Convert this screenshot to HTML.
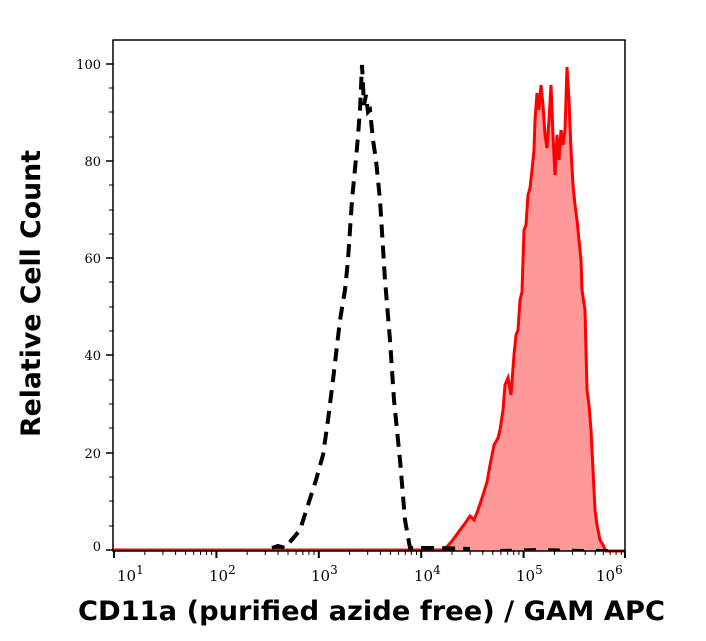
<!DOCTYPE html>
<html><head><style>body{margin:0;background:#fff}</style></head><body>
<svg width="706" height="641" xmlns="http://www.w3.org/2000/svg" style="display:block">
<rect width="706" height="641" fill="#fff"/>
<path d="M113,550 L444,550 L452,541 L460,530 L466,522 L470,516 L474,520 L478,510 L483,495 L487,482 L490,465 L492,455 L494,445 L498,438 L500,430 L503,410 L505,385 L508,378 L511,395 L514,355 L516,335 L518,330 L520,300 L522,292 L524,230 L526,225 L528,195 L530,188 L532,170 L534,150 L535,120 L537,93 L539,110 L541,85 L543,105 L545,135 L547,148 L549,120 L551,85 L553,135 L555,175 L557,135 L559,160 L561,130 L563,145 L565,130 L567,67 L569,100 L571,150 L573,185 L575,205 L577,220 L579,240 L581,260 L582,290 L585,310 L587,390 L589,405 L591,430 L593,470 L595,510 L597,525 L600,540 L603,545 L606,551 L625,551 Z" fill="#ff9999" stroke="none"/>
<path d="M113,550 L444,550 L452,541 L460,530 L466,522 L470,516 L474,520 L478,510 L483,495 L487,482 L490,465 L492,455 L494,445 L498,438 L500,430 L503,410 L505,385 L508,378 L511,395 L514,355 L516,335 L518,330 L520,300 L522,292 L524,230 L526,225 L528,195 L530,188 L532,170 L534,150 L535,120 L537,93 L539,110 L541,85 L543,105 L545,135 L547,148 L549,120 L551,85 L553,135 L555,175 L557,135 L559,160 L561,130 L563,145 L565,130 L567,67 L569,100 L571,150 L573,185 L575,205 L577,220 L579,240 L581,260 L582,290 L585,310 L587,390 L589,405 L591,430 L593,470 L595,510 L597,525 L600,540 L603,545 L606,551 L625,551" fill="none" stroke="#ff0000" stroke-width="3"/>
<path d="M272,548 L278,546 L285,548 L300,530 L308,505 L316,480 L323,455 L328,420 L333,380 L340,320 L345,290 L348,260 L352,200 L357,148 L360,110 L362,65 L364,105 L366,95 L368,112 L370,110 L373,140 L376,160 L380,200 L385,280 L390,340 L394,400 L397,430 L400,460 L405,520 L410,548 L432,548 L440,548 L470,549" fill="none" stroke="#000" stroke-width="4" stroke-dasharray="13,8"/>
<path d="M500,550 L540,549 L580,550 L610,550" fill="none" stroke="#000" stroke-width="2" stroke-dasharray="12,12"/>
<rect x="113" y="40" width="512" height="511" fill="none" stroke="#000" stroke-width="1.5"/>
<g stroke="#000" stroke-width="1.5">
<line x1="106" y1="64" x2="113" y2="64"/><line x1="106" y1="161" x2="113" y2="161"/><line x1="106" y1="258" x2="113" y2="258"/><line x1="106" y1="355" x2="113" y2="355"/><line x1="106" y1="453" x2="113" y2="453"/><line x1="106" y1="550" x2="113" y2="550"/>
</g>
<g stroke="#000" stroke-width="1">
<line x1="109" y1="88" x2="113" y2="88"/><line x1="109" y1="112" x2="113" y2="112"/><line x1="109" y1="137" x2="113" y2="137"/>
<line x1="109" y1="185" x2="113" y2="185"/><line x1="109" y1="210" x2="113" y2="210"/><line x1="109" y1="234" x2="113" y2="234"/>
<line x1="109" y1="282" x2="113" y2="282"/><line x1="109" y1="307" x2="113" y2="307"/><line x1="109" y1="331" x2="113" y2="331"/>
<line x1="109" y1="380" x2="113" y2="380"/><line x1="109" y1="404" x2="113" y2="404"/><line x1="109" y1="428" x2="113" y2="428"/>
<line x1="109" y1="477" x2="113" y2="477"/><line x1="109" y1="501" x2="113" y2="501"/><line x1="109" y1="526" x2="113" y2="526"/>
</g>
<g stroke="#000" stroke-width="2">
<line x1="114" y1="551" x2="114" y2="558"/><line x1="216.4" y1="551" x2="216.4" y2="558"/><line x1="318.8" y1="551" x2="318.8" y2="558"/><line x1="421.2" y1="551" x2="421.2" y2="558"/><line x1="523.6" y1="551" x2="523.6" y2="558"/><line x1="625" y1="551" x2="625" y2="558"/>
</g>
<path stroke="#000" stroke-width="1" fill="none" d="M144.8,551v4M162.9,551v4M175.6,551v4M185.6,551v4M193.7,551v4M200.5,551v4M206.5,551v4M211.7,551v4
M247.2,551v4M265.3,551v4M278,551v4M288,551v4M296.1,551v4M302.9,551v4M308.9,551v4M314.1,551v4
M349.6,551v4M367.7,551v4M380.4,551v4M390.4,551v4M398.5,551v4M405.3,551v4M411.3,551v4M416.5,551v4
M452,551v4M470.1,551v4M482.8,551v4M492.8,551v4M500.9,551v4M507.7,551v4M513.7,551v4M518.9,551v4
M554.4,551v4M572.5,551v4M585.2,551v4M595.2,551v4M603.3,551v4M610.1,551v4M616.1,551v4M621.3,551v4"/>
<g font-family="DejaVu Serif, Liberation Serif, serif" font-size="13" fill="#000" text-anchor="end">
<text x="101" y="69">100</text><text x="101" y="166">80</text><text x="101" y="263">60</text><text x="101" y="360">40</text><text x="101" y="458">20</text><text x="101" y="551">0</text>
</g>
<g font-family="DejaVu Serif, Liberation Serif, serif" font-size="15" fill="#000">
<text x="117" y="581">10<tspan font-size="12" dy="-7">1</tspan></text>
<text x="209" y="581">10<tspan font-size="12" dy="-7">2</tspan></text>
<text x="311" y="581">10<tspan font-size="12" dy="-7">3</tspan></text>
<text x="414" y="581">10<tspan font-size="12" dy="-7">4</tspan></text>
<text x="516" y="581">10<tspan font-size="12" dy="-7">5</tspan></text>
<text x="596" y="581">10<tspan font-size="12" dy="-7">6</tspan></text>
</g>
<text x="78" y="620" font-family="DejaVu Sans, sans-serif" font-weight="bold" font-size="27" textLength="587" lengthAdjust="spacingAndGlyphs">CD11a (purified azide free) / GAM APC</text>
<text transform="translate(40,437) rotate(-90)" font-family="DejaVu Sans, sans-serif" font-weight="bold" font-size="27" textLength="287" lengthAdjust="spacingAndGlyphs">Relative Cell Count</text>
</svg>
</body></html>
